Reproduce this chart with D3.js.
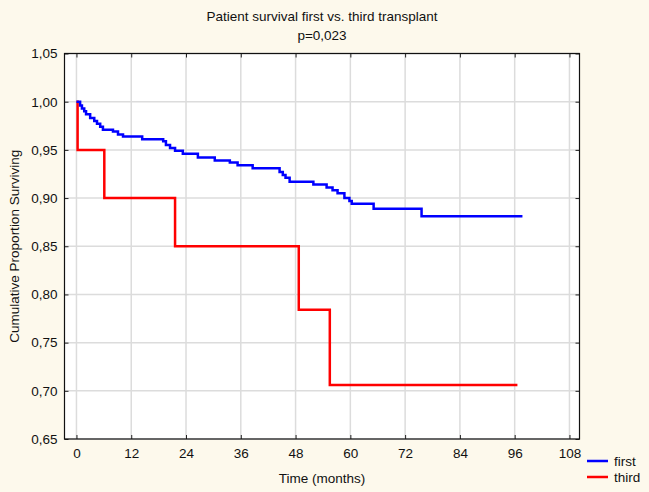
<!DOCTYPE html>
<html>
<head>
  <meta charset="utf-8">
  <title>Patient survival</title>
  <script src="https://cdn.jsdelivr.net/npm/d3@7"></script>
  <style>
    body { margin: 0; background: #fdf9ec; font-family: Arial, "Liberation Sans", sans-serif; }
    text { fill: #111; }
  </style>
</head>
<body>
<div id="chart"></div>
<script>
var width = 649;
var height = 492;

// ----- Data -----
var titleLines = ['Patient survival first vs. third transplant', 'p=0,023'];
var seriesNames = ['first', 'third'];
var seriesColors = ['#0000ff', '#ff0000'];

// step times (months) and survival after each step
var firstTime = [0, 0.8, 1.2, 1.7, 2.1, 3.0, 3.9, 4.5, 5.2, 5.8, 8.0, 9.1, 10.2, 14.4, 19.0, 19.6,
  20.5, 21.6, 23.3, 26.6, 30.3, 33.6, 35.3, 38.6, 44.5, 45.2, 45.8, 46.7, 51.9, 54.8, 56.1,
  57.2, 58.7, 59.8, 60.3, 65.1, 75.6, 97.7];
var firstSurv = [1.0, 0.996, 0.993, 0.990, 0.987, 0.983, 0.980, 0.977, 0.974, 0.971, 0.969, 0.966,
  0.964, 0.961, 0.959, 0.955, 0.952, 0.949, 0.946, 0.942, 0.939, 0.937, 0.934, 0.931, 0.927,
  0.924, 0.921, 0.917, 0.914, 0.911, 0.908, 0.905, 0.900, 0.897, 0.894, 0.889, 0.881, 0.881];

var thirdTime = [0, 0.25, 6.1, 21.6, 48.7, 55.5, 96.6];
var thirdSurv = [1.0, 0.95, 0.90, 0.85, 0.784, 0.706, 0.706];

var xTicks = [0, 12, 24, 36, 48, 60, 72, 84, 96, 108];
var yTicks = [0.65, 0.70, 0.75, 0.80, 0.85, 0.90, 0.95, 1.00, 1.05];

// ----- Layout -----
var plot = { left: 64.5, right: 579.5, top: 53.5, bottom: 439 };
var fontSize = 13.5;

var x = d3.scaleLinear().domain([-2.62, 110.2]).range([plot.left, plot.right]);
var y = d3.scaleLinear().domain([0.65, 1.05]).range([plot.bottom, plot.top]);

var fmt = function(v) { return d3.format('.2f')(v).replace('.', ','); };

var svg = d3.select('#chart')
  .append('svg')
  .attr('width', width)
  .attr('height', height);

svg.append('rect')
  .attr('width', width).attr('height', height)
  .attr('fill', '#fdf9ec');

svg.append('rect')
  .attr('x', plot.left).attr('y', plot.top)
  .attr('width', plot.right - plot.left).attr('height', plot.bottom - plot.top)
  .attr('fill', 'white');

// grid
var grid = svg.append('g').attr('stroke', '#dcdcdc').attr('stroke-width', 1.5);
grid.selectAll('.gx').data(xTicks).enter().append('line')
  .attr('x1', d => x(d)).attr('x2', d => x(d))
  .attr('y1', plot.top).attr('y2', plot.bottom);
grid.selectAll('.gy').data(yTicks).enter().append('line')
  .attr('x1', plot.left).attr('x2', plot.right)
  .attr('y1', d => y(d)).attr('y2', d => y(d));

// axes (ticks pointing inward)
svg.append('g')
  .attr('transform', 'translate(0,' + plot.bottom + ')')
  .call(d3.axisBottom(x).tickValues(xTicks).tickSizeInner(-4).tickSizeOuter(0).tickPadding(9));
svg.append('g')
  .attr('transform', 'translate(0,' + plot.top + ')')
  .call(d3.axisTop(x).tickValues(xTicks).tickSizeInner(-4).tickSizeOuter(0).tickFormat(''));
svg.append('g')
  .attr('transform', 'translate(' + plot.left + ',0)')
  .call(d3.axisLeft(y).tickValues(yTicks).tickFormat(fmt).tickSizeInner(-4).tickSizeOuter(0).tickPadding(7));
svg.append('g')
  .attr('transform', 'translate(' + plot.right + ',0)')
  .call(d3.axisRight(y).tickValues(yTicks).tickFormat('').tickSizeInner(-4).tickSizeOuter(0));

svg.selectAll('.domain').remove();
svg.selectAll('.tick line').attr('stroke', '#222');
svg.selectAll('.tick text')
  .attr('font-size', fontSize)
  .attr('font-family', 'Arial, "Liberation Sans", sans-serif')
  .attr('fill', '#111');

// frame
svg.append('rect')
  .attr('x', plot.left).attr('y', plot.top)
  .attr('width', plot.right - plot.left).attr('height', plot.bottom - plot.top)
  .attr('fill', 'none').attr('stroke', '#111').attr('stroke-width', 1.2);

// curves
var line = d3.line()
  .x(d => x(d[0]))
  .y(d => y(d[1]))
  .curve(d3.curveStepAfter);

var series = [d3.zip(firstTime, firstSurv), d3.zip(thirdTime, thirdSurv)];

// third first so blue is drawn on top at the start
[1, 0].forEach(function(i) {
  svg.append('path')
    .datum(series[i])
    .attr('d', line)
    .attr('fill', 'none')
    .attr('stroke', seriesColors[i])
    .attr('stroke-width', 2.5);
});

// titles
svg.selectAll('.title').data(titleLines).enter().append('text')
  .attr('x', 322).attr('y', (d, i) => 21 + i * 19)
  .attr('text-anchor', 'middle')
  .attr('font-size', fontSize)
  .text(d => d);

svg.append('text')
  .attr('x', 322).attr('y', 483)
  .attr('text-anchor', 'middle')
  .attr('font-size', fontSize)
  .text('Time (months)');

svg.append('text')
  .attr('transform', 'translate(19,' + ((plot.top + plot.bottom) / 2) + ') rotate(-90)')
  .attr('text-anchor', 'middle')
  .attr('font-size', fontSize)
  .text('Cumulative Proportion Surviving');

// legend
var legend = svg.append('g');
seriesNames.forEach(function(name, i) {
  legend.append('line')
    .attr('x1', 587).attr('x2', 608)
    .attr('y1', 461 + i * 16).attr('y2', 461 + i * 16)
    .attr('stroke', seriesColors[i]).attr('stroke-width', 2.5);
  legend.append('text')
    .attr('x', 614).attr('y', 465.5 + i * 16)
    .attr('font-size', fontSize)
    .text(name);
});
</script>
</body>
</html>
